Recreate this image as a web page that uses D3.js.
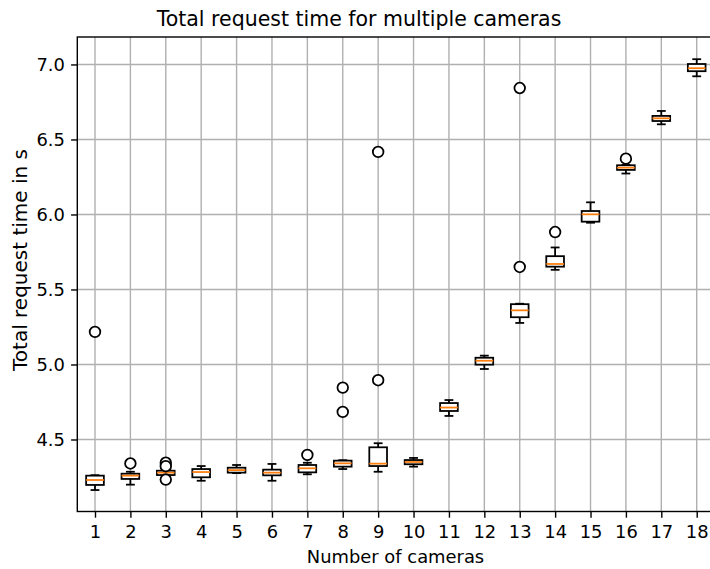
<!DOCTYPE html>
<html>
<head>
<meta charset="utf-8">
<script src="https://cdn.jsdelivr.net/npm/d3@7"></script>
<style>
  html, body { margin: 0; padding: 0; background: #fff; }
  svg { display: block; font-family: "DejaVu Sans", sans-serif; }
</style>
</head>
<body>
<svg id="chart" width="710" height="569"></svg>
<script>
// ---- data ----
const cameras     = [1, 2, 3, 4, 5, 6, 7, 8, 9, 10, 11, 12, 13, 14, 15, 16, 17, 18];
const whiskerLow  = [4.163, 4.199, 4.258, 4.225, 4.276, 4.225, 4.268, 4.303, 4.285, 4.319, 4.657, 4.970, 5.277, 5.631, 5.945, 6.273, 6.601, 6.921];
const q1          = [4.197, 4.237, 4.263, 4.248, 4.279, 4.261, 4.281, 4.319, 4.323, 4.335, 4.690, 4.999, 5.315, 5.652, 5.952, 6.297, 6.623, 6.955];
const medians     = [4.230, 4.259, 4.279, 4.283, 4.296, 4.279, 4.308, 4.341, 4.339, 4.350, 4.713, 5.025, 5.361, 5.670, 6.001, 6.312, 6.641, 6.975];
const q3          = [4.259, 4.272, 4.292, 4.303, 4.312, 4.299, 4.330, 4.359, 4.448, 4.363, 4.743, 5.045, 5.402, 5.722, 6.023, 6.328, 6.657, 7.003];
const whiskerHigh = [4.262, 4.285, 4.300, 4.323, 4.330, 4.337, 4.345, 4.362, 4.475, 4.377, 4.763, 5.059, 5.405, 5.780, 6.081, 6.330, 6.690, 7.035];
const outliers    = [[5.217], [4.340], [4.345, 4.322, 4.233], [], [], [], [4.397], [4.846, 4.684], [4.895, 6.417], [], [], [], [5.650, 6.843], [5.883], [], [6.372], [], []];
const yTicks      = [4.5, 5.0, 5.5, 6.0, 6.5, 7.0];
const titleText   = "Total request time for multiple cameras";
const xLabelText  = "Number of cameras";
const yLabelText  = "Total request time in s";

// ---- layout ----
const svg = d3.select("#chart");
const L = 77.3, R = 714.4, T = 37, B = 511.5;
const x = d3.scaleLinear().domain([0.5, 18.5]).range([L, R]);
const y = d3.scaleLinear().domain([4.02, 7.183]).range([B, T]);
const boxW = x(1.25) - x(1);   // half width of box (0.5 data units wide)
const capW = boxW / 2;

const fontPx = 17.9;

// grid
const grid = svg.append("g");
grid.selectAll("line.gx").data(cameras).join("line")
  .attr("x1", d => x(d)).attr("x2", d => x(d)).attr("y1", T).attr("y2", B)
  .attr("stroke", "#b0b0b0").attr("stroke-width", 1.4);
grid.selectAll("line.gy").data(yTicks).join("line")
  .attr("x1", L).attr("x2", R).attr("y1", d => y(d)).attr("y2", d => y(d))
  .attr("stroke", "#b0b0b0").attr("stroke-width", 1.4);

// boxes
const stats = cameras.map((c, i) => ({
  c, lo: whiskerLow[i], q1: q1[i], med: medians[i], q3: q3[i], hi: whiskerHigh[i], out: outliers[i]
}));
const g = svg.append("g");
const bx = g.selectAll("g.box").data(stats).join("g").attr("class", "box");
const lw = 1.78;
// whiskers
bx.append("line").attr("x1", d => x(d.c)).attr("x2", d => x(d.c))
  .attr("y1", d => y(d.q3)).attr("y2", d => y(d.hi)).attr("stroke", "#000").attr("stroke-width", lw);
bx.append("line").attr("x1", d => x(d.c)).attr("x2", d => x(d.c))
  .attr("y1", d => y(d.q1)).attr("y2", d => y(d.lo)).attr("stroke", "#000").attr("stroke-width", lw);
// caps
bx.append("line").attr("x1", d => x(d.c) - capW).attr("x2", d => x(d.c) + capW)
  .attr("y1", d => y(d.hi)).attr("y2", d => y(d.hi)).attr("stroke", "#000").attr("stroke-width", lw);
bx.append("line").attr("x1", d => x(d.c) - capW).attr("x2", d => x(d.c) + capW)
  .attr("y1", d => y(d.lo)).attr("y2", d => y(d.lo)).attr("stroke", "#000").attr("stroke-width", lw);
// box
bx.append("rect").attr("x", d => x(d.c) - boxW).attr("width", 2 * boxW)
  .attr("y", d => y(d.q3)).attr("height", d => y(d.q1) - y(d.q3))
  .attr("fill", "#fff").attr("stroke", "#000").attr("stroke-width", lw);
// median
bx.append("line").attr("x1", d => x(d.c) - boxW).attr("x2", d => x(d.c) + boxW)
  .attr("y1", d => y(d.med)).attr("y2", d => y(d.med)).attr("stroke", "#ff7f0e").attr("stroke-width", lw);
// fliers
bx.selectAll("circle").data(d => d.out.map(v => ({ c: d.c, v }))).join("circle")
  .attr("cx", d => x(d.c)).attr("cy", d => y(d.v)).attr("r", 5.3)
  .attr("fill", "#fff").attr("stroke", "#000").attr("stroke-width", lw);

// spines
svg.append("rect").attr("x", L).attr("y", T).attr("width", R - L).attr("height", B - T)
  .attr("fill", "none").attr("stroke", "#000").attr("stroke-width", 1.4);

// axes
const xAxis = d3.axisBottom(x).tickValues(cameras).tickFormat(d3.format("d")).tickSize(6.2).tickPadding(8);
const yAxis = d3.axisLeft(y).tickValues(yTicks).tickFormat(d3.format(".1f")).tickSize(6.2).tickPadding(6.2);
const gx = svg.append("g").attr("transform", `translate(0,${B})`).call(xAxis);
const gy = svg.append("g").attr("transform", `translate(${L},0)`).call(yAxis);
[gx, gy].forEach(a => {
  a.select(".domain").remove();
  a.selectAll(".tick line").attr("stroke", "#000").attr("stroke-width", 1.4);
  a.selectAll(".tick text").attr("fill", "#000").style("font-family", "DejaVu Sans")
    .style("font-size", fontPx + "px");
});

// labels
svg.append("text").attr("x", 359).attr("y", 26).attr("text-anchor", "middle")
  .style("font-size", "20.5px").attr("fill", "#000").text(titleText);
svg.append("text").attr("x", 395.5).attr("y", 563).attr("text-anchor", "middle")
  .style("font-size", fontPx + "px").attr("fill", "#000").text(xLabelText);
svg.append("text").attr("transform", `translate(27,${260}) rotate(-90)`).attr("text-anchor", "middle")
  .style("font-size", "20px").attr("fill", "#000").text(yLabelText);
</script>
</body>
</html>
